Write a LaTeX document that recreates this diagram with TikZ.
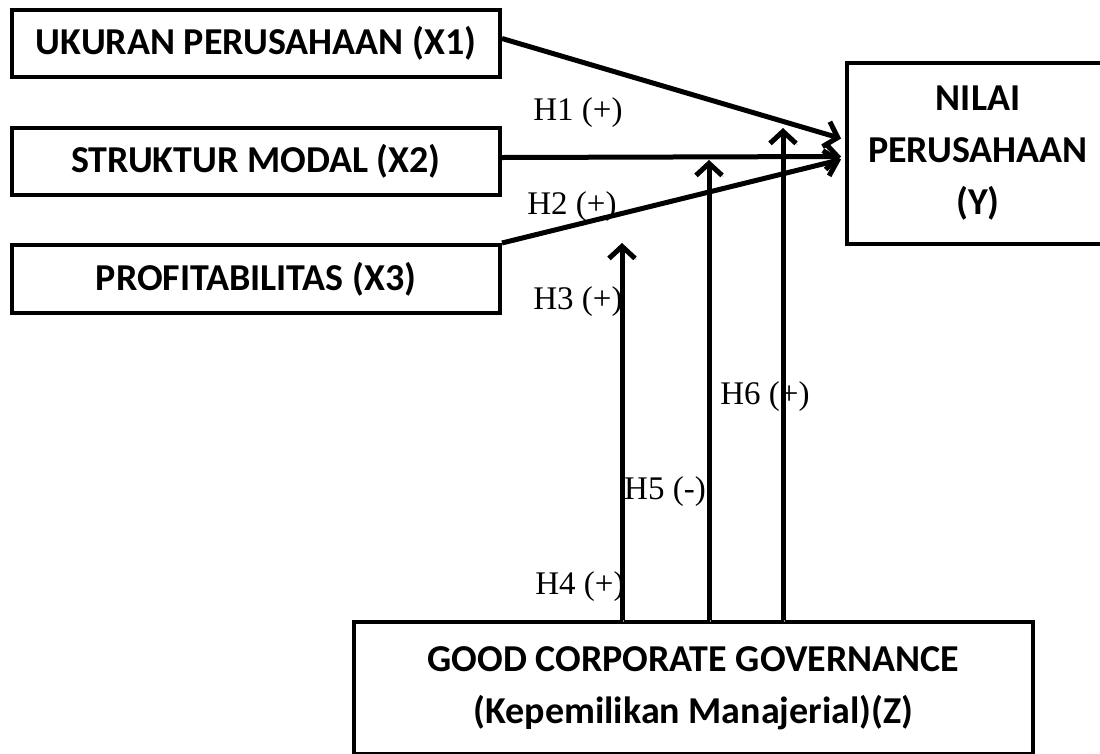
\documentclass[tikz,border=0pt]{standalone}
\usepackage{fontspec}
\setmainfont{Liberation Serif}
\newfontfamily\calibrifont{Carlito}
\usepackage{tikz}
\usetikzlibrary{positioning, arrows.meta}
\tikzset{
    varbox/.style={
        rectangle,
        draw=black,
        line width=4pt, % 边框加粗
        align=center,
        inner sep=0,
        font=\calibrifont\bfseries\fontsize{38}{52}\selectfont
    },
    hyp/.style={
        inner sep=0,
        font=\fontsize{33}{36}\selectfont
    },
    path/.style={
        line width=5pt,
        -{Straight Barb[length=12pt,width=26pt]},
        preaction={draw=black!40, transform canvas={xshift=1.5pt,yshift=-1.5pt}} % 阴影
    }
}
\begin{document}
\begin{tikzpicture}[x=1pt, y=-1pt]
    \useasboundingbox (0,0) rectangle (1100,753);
    \fill[white] (0,0) rectangle (1100,753);
    % variables
    \node[varbox, minimum width=488pt, minimum height=67pt] (x1) at (256,43.5) {UKURAN PERUSAHAAN (X1)};
    \node[varbox, minimum width=488pt, minimum height=67pt] (x2) at (256,161.5) {STRUKTUR MODAL (X2)};
    \node[varbox, minimum width=488pt, minimum height=68pt] (x3) at (256,279) {PROFITABILITAS (X3)};
    \node[varbox, minimum width=262pt, minimum height=181pt] (y) at (978,153.5) {NILAI\\PERUSAHAAN\\(Y)};
    \node[varbox, minimum width=679pt, minimum height=132pt] (z) at (693.5,688)
        {GOOD CORPORATE GOVERNANCE\\(Kepemilikan Manajerial)(Z)};
    % arrow tips on the paths
    \coordinate (t4) at (622,243);
    \coordinate (t5) at (709,160);
    \coordinate (t6) at (783,128);
    \draw[path] ([yshift=5pt]x1.east) -- ([xshift=-4pt,yshift=15pt]y.west);
    \draw[path] ([yshift=4pt]x2.east) -- ([xshift=-4pt,yshift=-3pt]y.west);
    \draw[path] (x3.north east) -- ([xshift=-4pt,yshift=-6pt]y.west);
    \draw[path] (t4 |- z.north) -- (t4);
    \draw[path] (t5 |- z.north) -- (t5);
    \draw[path] (t6 |- z.north) -- (t6);
    % labels
    \node[hyp] (h1) at (578,113) {H1 (+)};
    \node[hyp] (h2) at (572,207) {H2 (+)};
    \node[hyp] (h3) at (578,302) {H3 (+)};
    \node[hyp] (h4) at (580,587) {H4 (+)};
    \node[hyp] (h5) at (665,492) {H5 (-)};
    \node[hyp] (h6) at (765,397) {H6 (+)};
\end{tikzpicture}
\end{document}
